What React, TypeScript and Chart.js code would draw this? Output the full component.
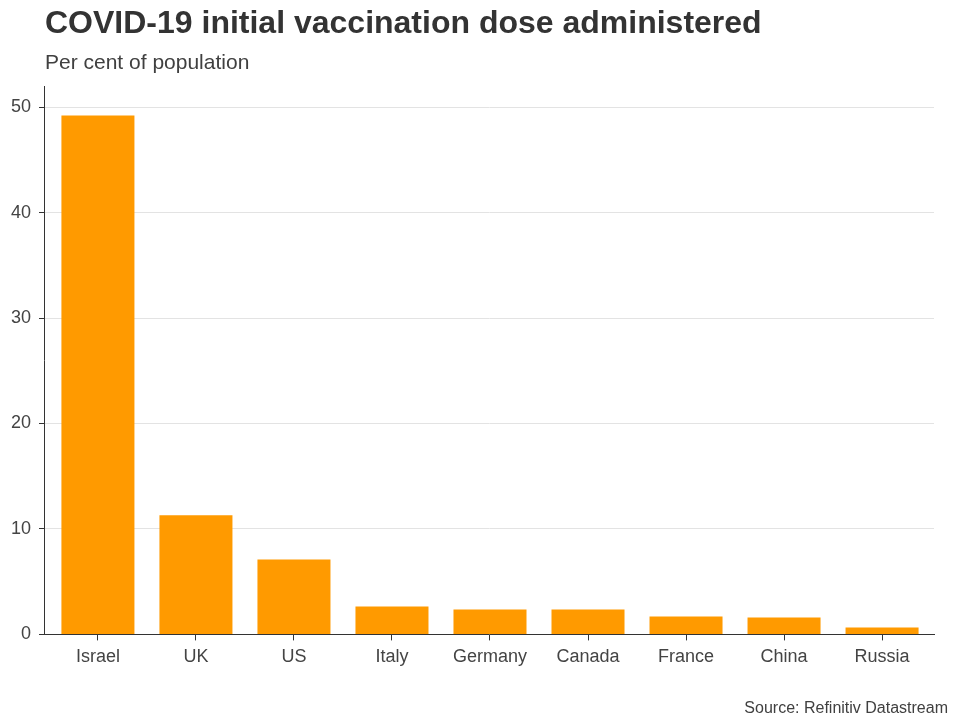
import React, { useEffect, useRef } from "react";
import { Chart, registerables } from "chart.js";

Chart.register(...registerables);

const categories = ["Israel", "UK", "US", "Italy", "Germany", "Canada", "France", "China", "Russia"];
const values = [49.2, 11.3, 7.1, 2.65, 2.35, 2.35, 1.7, 1.6, 0.65];
const yTicks = [0, 10, 20, 30, 40, 50];

const FONT = "'Liberation Sans', Arial, sans-serif";

export default function App() {
  const ref = useRef<HTMLCanvasElement>(null);
  useEffect(() => {
    if (!ref.current) return;
    const chart = new Chart(ref.current, {
      type: "bar",
      data: {
        datasets: [
          {
            data: categories.map((c, i) => ({ x: i, y: values[i] })),
            backgroundColor: "#ff9a00",
            barPercentage: 0.745,
            categoryPercentage: 1,
          },
        ],
      },
      options: {
        animation: false,
        responsive: false,
        devicePixelRatio: 1,
        layout: { padding: { top: 86, left: 3, right: 26, bottom: 46 } },
        plugins: { legend: { display: false }, tooltip: { enabled: false } },
        scales: {
          x: {
            type: "linear",
            min: -0.55,
            max: 8.53,
            offset: false,
            afterBuildTicks: (axis: any) => {
              axis.ticks = categories.map((c, i) => ({ value: i }));
            },
            grid: { display: true, drawOnChartArea: false, offset: false, tickColor: "#333", tickLength: 6 },
            border: { color: "#333", width: 1 },
            ticks: {
              color: "#444",
              font: { family: FONT, size: 18 },
              padding: 6,
              autoSkip: false,
              maxRotation: 0,
              callback: (v: any) => categories[Math.round(Number(v))] ?? "",
            },
          },
          y: {
            min: 0,
            max: 52,
            afterBuildTicks: (axis: any) => {
              axis.ticks = yTicks.map((v) => ({ value: v }));
            },
            grid: { color: "#e3e3e3", tickColor: "#333", tickLength: 5 },
            border: { color: "#333", width: 1 },
            ticks: { color: "#444", font: { family: FONT, size: 18 }, padding: 8 },
          },
        },
      },
    });
    return () => chart.destroy();
  }, []);
  return (
    <div style={{ position: "absolute", left: 0, top: 0, width: 960, height: 720, background: "#fff", fontFamily: FONT }}>
      <canvas ref={ref} width={960} height={720} style={{ position: "absolute", left: 0, top: 0 }} />
      <div style={{ position: "absolute", left: 45, top: 4, fontSize: 32, fontWeight: "bold", color: "#333", whiteSpace: "nowrap" }}>
        COVID-19 initial vaccination dose administered
      </div>
      <div style={{ position: "absolute", left: 45, top: 50, fontSize: 21, color: "#404040", whiteSpace: "nowrap" }}>
        Per cent of population
      </div>
      <div style={{ position: "absolute", right: 12, top: 699, fontSize: 16, color: "#404040", whiteSpace: "nowrap" }}>
        Source: Refinitiv Datastream
      </div>
    </div>
  );
}
